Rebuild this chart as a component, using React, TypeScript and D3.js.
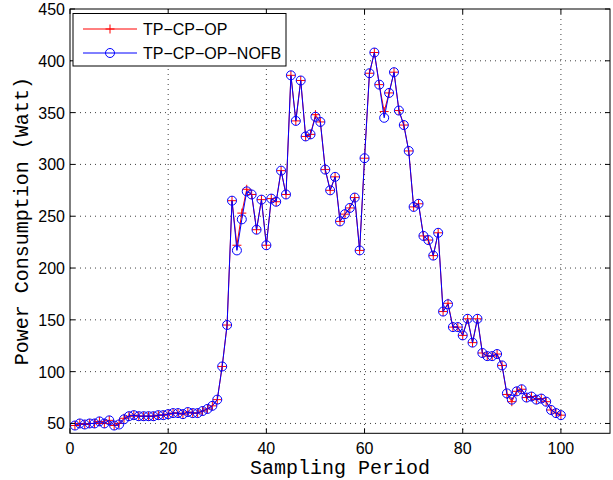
import * as d3 from "d3";

const sampleIdx: number[] = d3.range(1, 101);

// TP-CP-OP-NOFB (blue circles)
const nofbValues: number[] = [
  48, 50, 49, 50, 50, 52, 50, 53, 48, 49,
  54, 57, 58, 57, 57, 57, 57, 58, 58, 59,
  60, 60, 59, 61, 60, 60, 62, 64, 67, 73,
  105, 145, 265, 217, 247, 274, 271, 237, 266, 222,
  267, 264, 294, 271, 386, 342, 381, 327, 329, 346,
  341, 295, 275, 288, 245, 252, 258, 268, 217, 306,
  388, 408, 377, 345, 369, 389, 352, 338, 313, 259,
  262, 231, 227, 212, 234, 158, 165, 143, 143, 135,
  151, 128, 151, 118, 115, 115, 117, 106, 79, 73,
  81, 83, 75, 76, 73, 74, 71, 63, 60, 58,
];

// TP-CP-OP (red crosses)
const opValues: number[] = [
  48, 50, 49, 50, 50, 52, 50, 53, 48, 50,
  55, 57, 58, 57, 57, 57, 57, 58, 58, 59,
  60, 60, 59, 61, 60, 60, 62, 64, 67, 73,
  105, 145, 265, 222, 253, 276, 271, 237, 266, 222,
  267, 264, 294, 271, 386, 342, 381, 327, 329, 348,
  341, 295, 275, 288, 245, 252, 258, 268, 217, 306,
  388, 408, 377, 351, 369, 389, 352, 338, 313, 259,
  262, 231, 227, 212, 234, 158, 166, 143, 143, 135,
  151, 128, 151, 118, 115, 115, 117, 106, 78, 71,
  81, 83, 75, 76, 73, 74, 71, 63, 60, 58,
];

const xTicks: number[] = [0, 20, 40, 60, 80, 100];
const yTicks: number[] = [50, 100, 150, 200, 250, 300, 350, 400, 450];
const seriesNames: string[] = ["TP\u2212CP\u2212OP", "TP\u2212CP\u2212OP\u2212NOFB"];

const W = 613;
const H = 480;
const plot = { left: 70, right: 610, top: 9, bottom: 433.3 };
const tickFont = "'Liberation Sans', Arial, Helvetica, sans-serif";
const labelFont = "'Liberation Mono', 'Courier New', monospace";

export default function App() {
  const x = d3.scaleLinear().domain([0, 110]).range([plot.left, plot.right]);
  const y = d3.scaleLinear().domain([40.5, 450]).range([plot.bottom, plot.top]);

  const opData = sampleIdx.map((s, i) => ({ s, v: opValues[i] }));
  const nofbData = sampleIdx.map((s, i) => ({ s, v: nofbValues[i] }));

  const line = d3
    .line<{ s: number; v: number }>()
    .x((d) => x(d.s))
    .y((d) => y(d.v));

  const tickLen = 5;
  const cross = (cx: number, cy: number, k: string) => (
    <path
      key={k}
      d={`M${cx - 4.5},${cy}H${cx + 4.5}M${cx},${cy - 4.5}V${cy + 4.5}`}
      stroke="#ff0000"
      strokeWidth={1}
      fill="none"
    />
  );

  return (
    <svg
      width={W}
      height={H}
      style={{ position: "absolute", left: 0, top: 0, background: "#fff" }}
    >
      <rect x={0} y={0} width={W} height={H} fill="#fff" />

      {/* grid */}
      <g stroke="#000" strokeWidth={1} strokeDasharray="1,4" opacity={0.75}>
        {xTicks.filter((t) => t > 0).map((t) => (
          <line key={"gx" + t} x1={x(t)} x2={x(t)} y1={plot.top} y2={plot.bottom} />
        ))}
        {yTicks.filter((t) => t < 450).map((t) => (
          <line key={"gy" + t} x1={plot.left} x2={plot.right} y1={y(t)} y2={y(t)} />
        ))}
      </g>

      {/* series 1: TP-CP-OP */}
      <path d={line(opData) ?? ""} fill="none" stroke="#ff0000" strokeWidth={1} />
      {opData.map((d, i) => cross(x(d.s), y(d.v), "c" + i))}

      {/* series 2: TP-CP-OP-NOFB */}
      <path d={line(nofbData) ?? ""} fill="none" stroke="#0000ff" strokeWidth={1} />
      {nofbData.map((d, i) => (
        <circle
          key={"o" + i}
          cx={x(d.s)}
          cy={y(d.v)}
          r={4.5}
          fill="none"
          stroke="#0000ff"
          strokeWidth={1}
        />
      ))}

      {/* axes box + ticks */}
      <rect
        x={plot.left}
        y={plot.top}
        width={plot.right - plot.left}
        height={plot.bottom - plot.top}
        fill="none"
        stroke="#000"
        strokeWidth={1}
      />
      <g stroke="#000" strokeWidth={1}>
        {xTicks.map((t) => (
          <g key={"tx" + t}>
            <line x1={x(t)} x2={x(t)} y1={plot.bottom} y2={plot.bottom - tickLen} />
            <line x1={x(t)} x2={x(t)} y1={plot.top} y2={plot.top + tickLen} />
          </g>
        ))}
        {yTicks.map((t) => (
          <g key={"ty" + t}>
            <line x1={plot.left} x2={plot.left + tickLen} y1={y(t)} y2={y(t)} />
            <line x1={plot.right} x2={plot.right - tickLen} y1={y(t)} y2={y(t)} />
          </g>
        ))}
      </g>

      {/* tick labels */}
      <g fontFamily={tickFont} fontSize={16} fill="#000">
        {xTicks.map((t) => (
          <text key={"lx" + t} x={x(t)} y={454} textAnchor="middle">
            {t}
          </text>
        ))}
        {yTicks.map((t) => (
          <text key={"ly" + t} x={65} y={y(t) + 6} textAnchor="end">
            {t}
          </text>
        ))}
      </g>

      {/* axis labels */}
      <text
        x={(plot.left + plot.right) / 2}
        y={474}
        textAnchor="middle"
        fontFamily={labelFont}
        fontSize={20}
        fill="#000"
      >
        Sampling Period
      </text>
      <text
        transform={`translate(28,${(plot.top + plot.bottom) / 2}) rotate(-90)`}
        textAnchor="middle"
        fontFamily={labelFont}
        fontSize={20}
        fill="#000"
      >
        Power Consumption (Watt)
      </text>

      {/* legend */}
      <g>
        <rect x={73} y={13.5} width={213} height={52.5} fill="#fff" stroke="#000" strokeWidth={1} />
        <line x1={83} x2={137} y1={29} y2={29} stroke="#ff0000" strokeWidth={1} />
        {cross(110, 29, "lg0")}
        <line x1={83} x2={137} y1={53} y2={53} stroke="#0000ff" strokeWidth={1} />
        <circle cx={110} cy={53} r={4.5} fill="none" stroke="#0000ff" strokeWidth={1} />
        <g fontFamily={tickFont} fontSize={16} fill="#000">
          <text x={143} y={35}>{seriesNames[0]}</text>
          <text x={143} y={59}>{seriesNames[1]}</text>
        </g>
      </g>
    </svg>
  );
}
